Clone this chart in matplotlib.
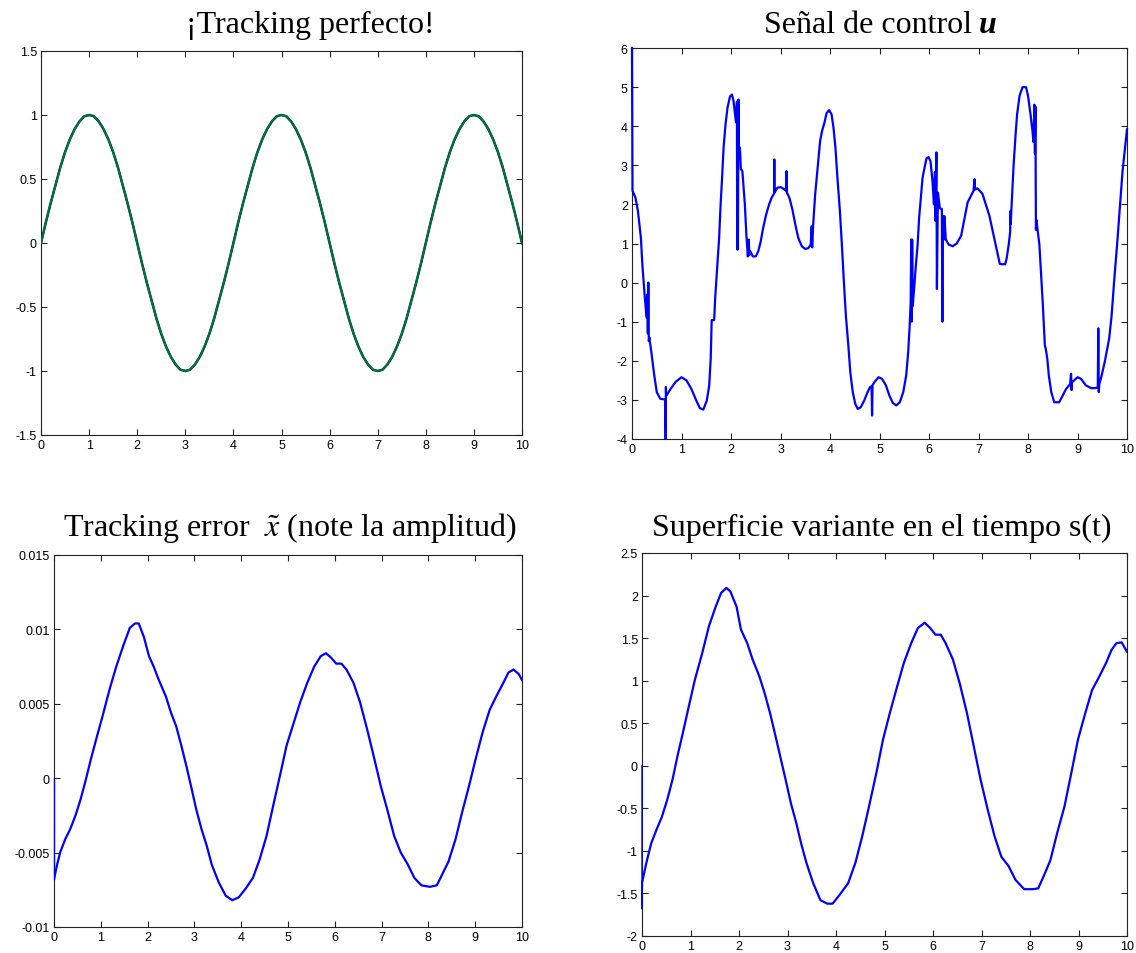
import numpy as np
import matplotlib
matplotlib.use("Agg")
import matplotlib.pyplot as plt
from matplotlib.ticker import FuncFormatter

# ---- data ----
# tracking (desired and actual overlap), sampled every 0.1 s
t_track = [i * 0.1 for i in range(101)]
x_track = [0.0, 0.16, 0.31, 0.45, 0.59, 0.71, 0.81, 0.89, 0.95, 0.99,
           1.0, 0.99, 0.95, 0.89, 0.81, 0.71, 0.59, 0.45, 0.31, 0.16,
           0.0, -0.16, -0.31, -0.45, -0.59, -0.71, -0.81, -0.89, -0.95, -0.99,
           -1.0, -0.99, -0.95, -0.89, -0.81, -0.71, -0.59, -0.45, -0.31, -0.16,
           0.0, 0.16, 0.31, 0.45, 0.59, 0.71, 0.81, 0.89, 0.95, 0.99,
           1.0, 0.99, 0.95, 0.89, 0.81, 0.71, 0.59, 0.45, 0.31, 0.16,
           0.0, -0.16, -0.31, -0.45, -0.59, -0.71, -0.81, -0.89, -0.95, -0.99,
           -1.0, -0.99, -0.95, -0.89, -0.81, -0.71, -0.59, -0.45, -0.31, -0.16,
           0.0, 0.16, 0.31, 0.45, 0.59, 0.71, 0.81, 0.89, 0.95, 0.99,
           1.0, 0.99, 0.95, 0.89, 0.81, 0.71, 0.59, 0.45, 0.31, 0.16,
           0.0]

# control signal u
t_u = [0.0, 0.01, 0.07, 0.12, 0.18, 0.21, 0.26, 0.29, 0.30, 0.31, 0.32, 0.33, 0.34, 0.35,
       0.39, 0.45, 0.50, 0.57, 0.66, 0.67, 0.68, 0.685, 0.69, 0.78, 0.88, 1.0, 1.1, 1.2,
       1.3, 1.37, 1.44, 1.51, 1.56, 1.59, 1.61, 1.66, 1.68, 1.72, 1.76, 1.79, 1.82, 1.85,
       1.89, 1.93, 1.98, 2.02, 2.05, 2.09, 2.10, 2.12, 2.125, 2.13, 2.14, 2.15, 2.16, 2.17,
       2.18, 2.20, 2.23, 2.28, 2.31, 2.34, 2.36, 2.37, 2.39, 2.44, 2.50, 2.55, 2.60, 2.65,
       2.71, 2.77, 2.82, 2.87, 2.875, 2.88, 2.94, 3.01, 3.08, 3.11, 3.12, 3.13, 3.18, 3.24,
       3.30, 3.36, 3.43, 3.50, 3.56, 3.61, 3.63, 3.64, 3.66, 3.70, 3.75, 3.80, 3.84, 3.89,
       3.93, 3.98, 4.03, 4.07, 4.11, 4.15, 4.20, 4.24, 4.28, 4.32, 4.37, 4.41, 4.46, 4.51,
       4.56, 4.62, 4.69, 4.76, 4.81, 4.84, 4.85, 4.86, 4.90, 4.98, 5.05, 5.13, 5.20, 5.27,
       5.34, 5.41, 5.48, 5.54, 5.58, 5.61, 5.63, 5.64, 5.65, 5.66, 5.67, 5.70, 5.73, 5.77,
       5.80, 5.84, 5.87, 5.91, 5.95, 5.99, 6.03, 6.07, 6.10, 6.12, 6.13, 6.15, 6.16, 6.18,
       6.22, 6.26, 6.27, 6.28, 6.30, 6.31, 6.34, 6.40, 6.48, 6.56, 6.65, 6.78, 6.90, 6.92,
       6.93, 6.98, 7.08, 7.22, 7.32, 7.43, 7.47, 7.54, 7.57, 7.61, 7.64, 7.645, 7.65, 7.68,
       7.71, 7.75, 7.78, 7.83, 7.89, 7.96, 8.00, 8.05, 8.09, 8.11, 8.13, 8.14, 8.15, 8.16,
       8.17, 8.23, 8.27, 8.30, 8.34, 8.36, 8.39, 8.42, 8.47, 8.53, 8.63, 8.70, 8.77, 8.85,
       8.87, 8.88, 8.89, 9.00, 9.07, 9.17, 9.28, 9.35, 9.41, 9.42, 9.43, 9.44, 9.48, 9.55,
       9.60, 9.64, 9.69, 9.74, 9.80, 9.86, 9.91, 9.96, 10.0]
u_val = [6.0, 2.35, 2.17, 1.83, 1.14, 0.45, -0.4, -0.83, -0.9, -0.3, -1.3, 0.0, -1.5, -1.4,
         -1.77, -2.37, -2.8, -2.97, -2.99, -3.0, -4.0, -2.67, -2.9, -2.72, -2.54, -2.42, -2.5, -2.72,
         -3.02, -3.21, -3.25, -3.02, -2.63, -1.95, -0.96, -0.96, -0.4, 0.37, 1.14, 2.0, 2.68, 3.45,
         4.05, 4.48, 4.76, 4.81, 4.65, 4.22, 4.1, 4.63, 0.85, 4.0, 0.85, 4.68, 3.5, 3.3,
         3.45, 2.9, 2.85, 2.0, 1.23, 0.67, 1.1, 0.7, 0.8, 0.67, 0.67, 0.8, 1.05, 1.4,
         1.74, 2.0, 2.17, 2.28, 3.15, 2.3, 2.43, 2.44, 2.38, 2.35, 2.85, 2.3, 2.17, 1.87,
         1.48, 1.14, 0.93, 0.86, 0.88, 0.97, 1.44, 0.9, 1.48, 2.25, 2.94, 3.62, 3.88, 4.1,
         4.33, 4.41, 4.31, 3.97, 3.45, 2.68, 1.83, 0.97, 0.03, -0.83, -1.6, -2.29, -2.8, -3.1,
         -3.23, -3.19, -3.02, -2.8, -2.67, -2.65, -3.4, -2.62, -2.54, -2.42, -2.46, -2.63, -2.89, -3.08,
         -3.14, -3.06, -2.8, -2.37, -1.77, -1.09, -0.5, 1.1, -1.0, 1.1, -0.6, -0.15, 0.37, 0.97,
         1.65, 2.25, 2.68, 2.94, 3.18, 3.21, 3.11, 2.6, 2.0, 2.83, 1.58, 3.33, -0.16, 2.3,
         1.9, 1.88, -1.0, 1.7, 1.1, 1.7, 1.1, 0.97, 0.93, 1.0, 1.2, 2.05, 2.35, 2.65,
         2.38, 2.41, 2.27, 1.71, 1.12, 0.48, 0.47, 0.47, 0.63, 0.97, 1.3, 1.83, 1.5, 2.25,
         3.02, 3.8, 4.31, 4.78, 5.0, 5.0, 4.78, 4.31, 3.88, 3.6, 4.55, 3.3, 4.5, 1.35,
         1.6, 0.97, 0.11, -0.57, -1.6, -1.7, -1.95, -2.37, -2.8, -3.06, -3.06, -2.89, -2.72, -2.6,
         -2.33, -2.75, -2.55, -2.42, -2.46, -2.63, -2.7, -2.7, -2.68, -1.17, -2.8, -2.6, -2.42, -2.03,
         -1.69, -1.43, -0.83, 0.03, 0.97, 2.0, 2.85, 3.45, 3.92]

# tracking error x~
t_err = [0.0, 0.06, 0.13, 0.24, 0.35, 0.46, 0.57, 0.68, 0.79, 0.9, 1.04, 1.19, 1.33, 1.48,
         1.62, 1.73, 1.81, 1.92, 2.03, 2.13, 2.24, 2.39, 2.5, 2.61, 2.72, 2.83, 2.94, 3.04,
         3.15, 3.26, 3.37, 3.52, 3.67, 3.81, 3.95, 4.1, 4.25, 4.39, 4.54, 4.68, 4.83, 4.97,
         5.12, 5.26, 5.41, 5.56, 5.7, 5.81, 5.92, 6.03, 6.14, 6.25, 6.4, 6.54, 6.69, 6.83,
         6.98, 7.12, 7.27, 7.41, 7.56, 7.7, 7.85, 8.03, 8.18, 8.29, 8.43, 8.58, 8.72, 8.87,
         9.01, 9.16, 9.31, 9.45, 9.6, 9.71, 9.82, 9.93, 10.0]
err_val = [-0.0068, -0.0059, -0.005, -0.0041, -0.0034, -0.0025, -0.0014, -0.0001, 0.0013,
           0.0026, 0.0042, 0.006, 0.0075, 0.0089, 0.0101, 0.0104, 0.0104, 0.0095, 0.0082,
           0.0075, 0.0066, 0.0055, 0.0044, 0.0035, 0.0022, 0.0008, -0.0007, -0.0021, -0.0034,
           -0.0045, -0.0058, -0.007, -0.0079, -0.0082, -0.008, -0.0074, -0.0067, -0.0055,
           -0.0039, -0.0019, 0.0002, 0.0022, 0.0037, 0.0051, 0.0064, 0.0075, 0.0082, 0.0084,
           0.0081, 0.0077, 0.0077, 0.0073, 0.0064, 0.0051, 0.0033, 0.0015, -0.0005, -0.0021,
           -0.0039, -0.005, -0.0058, -0.0067, -0.0072, -0.0073, -0.0072, -0.0065, -0.0056,
           -0.0041, -0.0023, -0.0005, 0.0013, 0.0031, 0.0046, 0.0055, 0.0064, 0.0071, 0.0073,
           0.007, 0.0066]
t_err_start = [0.0, 0.0]
err_start = [0.0, -0.0068]

# sliding surface s(t)
t_s = [0.01, 0.09, 0.19, 0.3, 0.41, 0.52, 0.63, 0.73, 0.84, 0.95, 1.09, 1.24, 1.38, 1.52,
       1.63, 1.74, 1.82, 1.95, 2.04, 2.17, 2.28, 2.42, 2.53, 2.64, 2.74, 2.85, 2.96, 3.07,
       3.18, 3.28, 3.39, 3.53, 3.68, 3.82, 3.93, 4.07, 4.25, 4.4, 4.54, 4.68, 4.83, 4.97,
       5.11, 5.26, 5.4, 5.55, 5.69, 5.83, 5.94, 6.05, 6.16, 6.26, 6.41, 6.55, 6.7, 6.84,
       6.98, 7.13, 7.27, 7.41, 7.56, 7.7, 7.88, 8.06, 8.17, 8.28, 8.42, 8.56, 8.71, 8.85,
       8.99, 9.14, 9.28, 9.43, 9.57, 9.68, 9.78, 9.89, 10.0]
s_val = [-1.35, -1.14, -0.91, -0.75, -0.6, -0.4, -0.16, 0.11, 0.38, 0.66, 1.01, 1.32, 1.64,
         1.87, 2.03, 2.09, 2.05, 1.87, 1.6, 1.44, 1.25, 1.05, 0.85, 0.62, 0.38, 0.11, -0.16,
         -0.44, -0.67, -0.91, -1.14, -1.38, -1.58, -1.62, -1.62, -1.52, -1.38, -1.14, -0.83,
         -0.48, -0.09, 0.31, 0.62, 0.93, 1.21, 1.44, 1.62, 1.68, 1.62, 1.54, 1.54, 1.44, 1.25,
         0.97, 0.62, 0.23, -0.16, -0.52, -0.83, -1.07, -1.18, -1.34, -1.45, -1.45, -1.44,
         -1.3, -1.11, -0.79, -0.48, -0.09, 0.31, 0.62, 0.89, 1.05, 1.21, 1.36, 1.44, 1.45, 1.34]
t_s_start = [0.0, 0.0, 0.01]
s_start = [0.0, -1.68, -1.35]

BLUE = "#0000ff"
GREEN = "#008000"
SERIF = ["Liberation Serif", "DejaVu Serif"]

plt.rcParams["font.family"] = ["Liberation Sans", "DejaVu Sans"]
plt.rcParams["mathtext.fontset"] = "stix"

fig = plt.figure(figsize=(11.36, 9.54), dpi=100)
W, H = 1136.0, 954.0


def make_axes(l, r, top, bot):
    ax = fig.add_axes([l / W, 1 - bot / H, (r - l) / W, (bot - top) / H])
    ax.tick_params(direction="in", top=True, right=True, length=4, width=0.8,
                   labelsize=9, pad=3, colors="#222222", labelcolor="black")
    for sp in ax.spines.values():
        sp.set_linewidth(0.8)
        sp.set_color("#222222")
    ax.set_xlim(0, 10)
    ax.set_xticks(range(0, 11))
    ax.yaxis.set_major_formatter(FuncFormatter(lambda v, p: "%g" % round(v, 6)))
    return ax


# top left
ax1 = make_axes(41, 522, 52, 436)
ax1.plot(t_track, x_track, color=BLUE, lw=1.8, zorder=3)
ax1.plot(t_track, x_track, color=GREEN, lw=1.4, zorder=3)
ax1.set_ylim(-1.5, 1.5)
ax1.set_yticks(np.arange(-1.5, 1.51, 0.5))
fig.text(310 / W, 1 - 33 / H, "¡Tracking perfecto!", ha="center", va="baseline",
         fontsize=23, family=SERIF)

# top right
ax2 = make_axes(632, 1127, 49, 440)
ax2.plot(t_u, u_val, color=BLUE, lw=1.6, zorder=3, clip_on=False)
ax2.set_ylim(-4, 6)
ax2.set_yticks(range(-4, 7))
fig.text(972 / W, 1 - 33 / H, "Señal de control", ha="right", va="baseline",
         fontsize=23, family=SERIF)
fig.text(979 / W, 1 - 33 / H, "u", ha="left", va="baseline", fontsize=23,
         family=SERIF, fontweight="bold", style="italic")

# bottom left
ax3 = make_axes(54, 522, 556, 928)
ax3.plot(t_err_start, err_start, color=BLUE, lw=1.0, zorder=3, clip_on=False)
ax3.plot(t_err, err_val, color=BLUE, lw=1.6, zorder=3)
ax3.set_ylim(-0.01, 0.015)
ax3.set_yticks(np.arange(-0.01, 0.0151, 0.005))
fig.text(290 / W, 1 - 536 / H, r"Tracking error  $\tilde{x}$ (note la amplitud)",
         ha="center", va="baseline", fontsize=23, family=SERIF)

# bottom right
ax4 = make_axes(642, 1127, 554, 937)
ax4.plot(t_s_start, s_start, color=BLUE, lw=1.0, zorder=3, clip_on=False)
ax4.plot(t_s, s_val, color=BLUE, lw=1.6, zorder=3)
ax4.set_ylim(-2, 2.5)
ax4.set_yticks(np.arange(-2, 2.51, 0.5))
fig.text(882 / W, 1 - 536 / H, "Superficie variante en el tiempo s(t)",
         ha="center", va="baseline", fontsize=23, family=SERIF)

fig.savefig("out.png", dpi=100, facecolor="white")
